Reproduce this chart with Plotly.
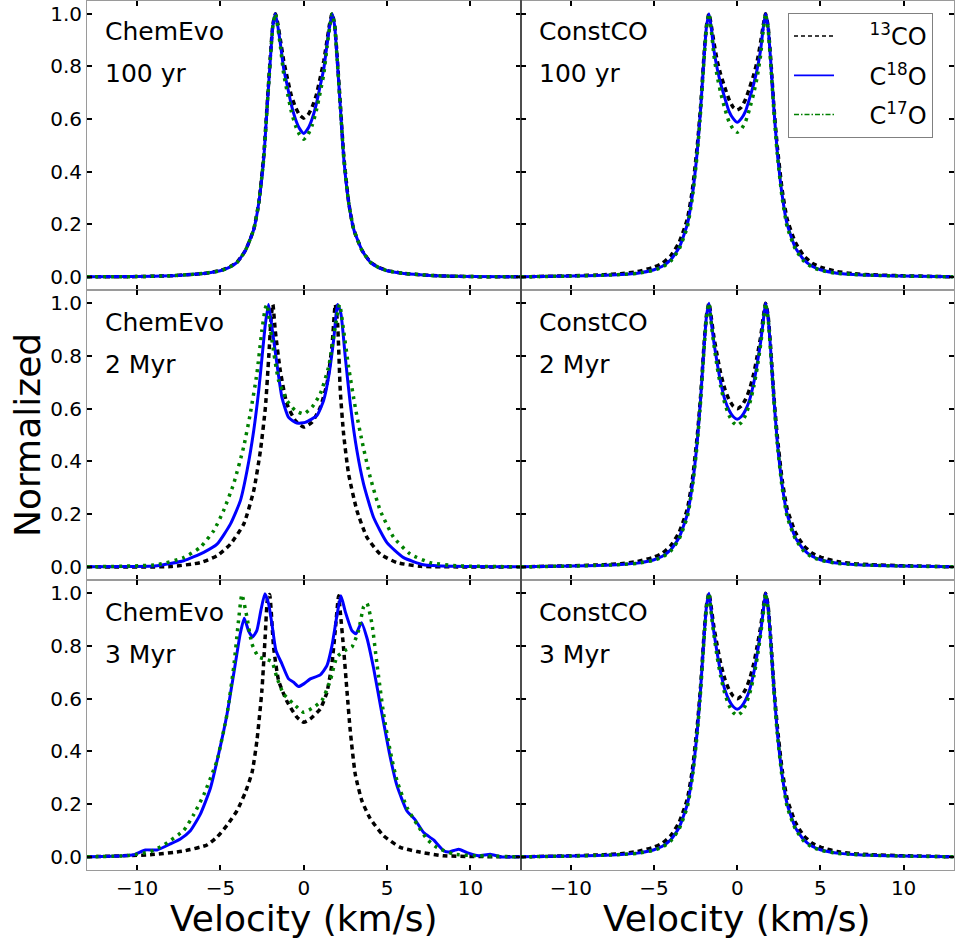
import plotly.graph_objects as go

# ---------------------------------------------------------------
# Normalized line profiles of 13CO, C18O and C17O
# Left column: chemical evolution (ChemEvo); right: constant CO (ConstCO)
# ---------------------------------------------------------------

# Shared velocity grid (km/s) for the nearly symmetric profiles
v_grid = [-13, -10, -8, -7, -6, -5, -4.5, -4, -3.5, -3, -2.7, -2.4, -2.2, -2.0,
          -1.85, -1.7, -1.55, -1.4, -1.2, -1.0, -0.75, -0.5, -0.25, 0,
          0.25, 0.5, 0.75, 1.0, 1.2, 1.4, 1.55, 1.7, 1.85, 2.0, 2.2, 2.4,
          2.7, 3.0, 3.5, 4.0, 4.5, 5, 6, 7, 8, 10, 13]

# ChemEvo, 100 yr
chem100_13co = [0, 0.001, 0.004, 0.008, 0.013, 0.024, 0.036, 0.056, 0.10, 0.18, 0.28, 0.46, 0.65, 0.84,
                0.96, 1.0, 0.96, 0.90, 0.82, 0.76, 0.69, 0.645, 0.615, 0.603,
                0.615, 0.645, 0.69, 0.76, 0.82, 0.90, 0.96, 1.0, 0.96, 0.84, 0.65, 0.46,
                0.28, 0.18, 0.10, 0.056, 0.036, 0.024, 0.013, 0.008, 0.004, 0.001, 0]
chem100_c18o = [0, 0.001, 0.004, 0.008, 0.013, 0.023, 0.035, 0.055, 0.10, 0.18, 0.28, 0.45, 0.64, 0.83,
                0.955, 1.0, 0.95, 0.885, 0.79, 0.73, 0.655, 0.60, 0.563, 0.545,
                0.563, 0.60, 0.655, 0.73, 0.79, 0.885, 0.95, 1.0, 0.955, 0.83, 0.64, 0.45,
                0.28, 0.18, 0.10, 0.055, 0.035, 0.023, 0.013, 0.008, 0.004, 0.001, 0]
chem100_c17o = [0, 0.001, 0.004, 0.008, 0.013, 0.023, 0.035, 0.055, 0.10, 0.18, 0.28, 0.45, 0.64, 0.83,
                0.955, 1.0, 0.945, 0.875, 0.77, 0.705, 0.63, 0.575, 0.54, 0.523,
                0.54, 0.575, 0.63, 0.705, 0.77, 0.875, 0.945, 1.0, 0.955, 0.83, 0.64, 0.45,
                0.28, 0.18, 0.10, 0.055, 0.035, 0.023, 0.013, 0.008, 0.004, 0.001, 0]

# ConstCO, 100 yr
const100_13co = [0, 0.004, 0.008, 0.012, 0.02, 0.037, 0.052, 0.08, 0.13, 0.22, 0.33, 0.50, 0.65, 0.84,
                 0.955, 1.0, 0.95, 0.89, 0.82, 0.77, 0.72, 0.675, 0.645, 0.634,
                 0.645, 0.675, 0.72, 0.77, 0.82, 0.89, 0.95, 1.0, 0.955, 0.84, 0.65, 0.50,
                 0.33, 0.22, 0.13, 0.08, 0.052, 0.037, 0.02, 0.012, 0.008, 0.004, 0]
const100_c18o = [0, 0.003, 0.006, 0.009, 0.014, 0.027, 0.04, 0.065, 0.11, 0.20, 0.31, 0.48, 0.64, 0.83,
                 0.95, 1.0, 0.94, 0.86, 0.79, 0.735, 0.68, 0.63, 0.602, 0.587,
                 0.602, 0.63, 0.68, 0.735, 0.79, 0.86, 0.94, 1.0, 0.95, 0.83, 0.64, 0.48,
                 0.31, 0.20, 0.11, 0.065, 0.04, 0.027, 0.014, 0.009, 0.006, 0.003, 0]
const100_c17o = [0, 0.003, 0.006, 0.009, 0.013, 0.025, 0.037, 0.06, 0.105, 0.19, 0.30, 0.47, 0.63, 0.82,
                 0.945, 1.0, 0.93, 0.84, 0.76, 0.70, 0.64, 0.59, 0.562, 0.549,
                 0.562, 0.59, 0.64, 0.70, 0.76, 0.84, 0.93, 1.0, 0.945, 0.82, 0.63, 0.47,
                 0.30, 0.19, 0.105, 0.06, 0.037, 0.025, 0.013, 0.009, 0.006, 0.003, 0]

# ConstCO, 2 Myr
const2_13co = [0, 0.004, 0.008, 0.012, 0.02, 0.037, 0.052, 0.08, 0.13, 0.22, 0.33, 0.50, 0.65, 0.84,
               0.955, 1.0, 0.94, 0.87, 0.80, 0.735, 0.675, 0.635, 0.61, 0.60,
               0.61, 0.635, 0.675, 0.735, 0.80, 0.87, 0.94, 1.0, 0.955, 0.84, 0.65, 0.50,
               0.33, 0.22, 0.13, 0.08, 0.052, 0.037, 0.02, 0.012, 0.008, 0.004, 0]
const2_c18o = [0, 0.003, 0.006, 0.009, 0.014, 0.027, 0.04, 0.065, 0.11, 0.20, 0.31, 0.48, 0.64, 0.83,
               0.95, 1.0, 0.925, 0.85, 0.77, 0.70, 0.635, 0.595, 0.57, 0.56,
               0.57, 0.595, 0.635, 0.70, 0.77, 0.85, 0.925, 1.0, 0.95, 0.83, 0.64, 0.48,
               0.31, 0.20, 0.11, 0.065, 0.04, 0.027, 0.014, 0.009, 0.006, 0.003, 0]
const2_c17o = [0, 0.003, 0.006, 0.009, 0.013, 0.025, 0.037, 0.06, 0.105, 0.19, 0.30, 0.47, 0.63, 0.82,
               0.945, 1.0, 0.915, 0.84, 0.755, 0.685, 0.62, 0.575, 0.548, 0.536,
               0.548, 0.575, 0.62, 0.685, 0.755, 0.84, 0.915, 1.0, 0.945, 0.82, 0.63, 0.47,
               0.30, 0.19, 0.105, 0.06, 0.037, 0.025, 0.013, 0.009, 0.006, 0.003, 0]

# ConstCO, 3 Myr
const3_13co = [0, 0.004, 0.008, 0.012, 0.02, 0.037, 0.052, 0.08, 0.13, 0.22, 0.33, 0.50, 0.65, 0.84,
               0.955, 1.0, 0.94, 0.87, 0.80, 0.735, 0.675, 0.635, 0.61, 0.60,
               0.61, 0.635, 0.675, 0.735, 0.80, 0.87, 0.94, 1.0, 0.955, 0.84, 0.65, 0.50,
               0.33, 0.22, 0.13, 0.08, 0.052, 0.037, 0.02, 0.012, 0.008, 0.004, 0]
const3_c18o = [0, 0.003, 0.006, 0.009, 0.014, 0.027, 0.04, 0.065, 0.11, 0.20, 0.31, 0.48, 0.64, 0.83,
               0.95, 1.0, 0.925, 0.85, 0.77, 0.70, 0.635, 0.595, 0.57, 0.56,
               0.57, 0.595, 0.635, 0.70, 0.77, 0.85, 0.925, 1.0, 0.95, 0.83, 0.64, 0.48,
               0.31, 0.20, 0.11, 0.065, 0.04, 0.027, 0.014, 0.009, 0.006, 0.003, 0]
const3_c17o = [0, 0.003, 0.006, 0.009, 0.013, 0.025, 0.037, 0.06, 0.105, 0.19, 0.30, 0.47, 0.63, 0.82,
               0.945, 1.0, 0.915, 0.84, 0.755, 0.685, 0.62, 0.575, 0.548, 0.536,
               0.548, 0.575, 0.62, 0.685, 0.755, 0.84, 0.915, 1.0, 0.945, 0.82, 0.63, 0.47,
               0.30, 0.19, 0.105, 0.06, 0.037, 0.025, 0.013, 0.009, 0.006, 0.003, 0]

# ChemEvo, 2 Myr (each isotopologue on its own velocity samples)
chem2_13co_v = [-13, -8, -6.2, -5.2, -4.4, -3.6, -3.0, -2.6, -2.3, -2.1, -1.95, -1.85, -1.71, -1.41,
                -1.01, -0.51, 0, 0.49, 0.99, 1.39, 1.69, 1.89, 2.03, 2.19, 2.39, 2.69, 3.19, 3.79,
                4.59, 5.59, 7, 13]
chem2_13co = [0, 0.001, 0.016, 0.042, 0.086, 0.162, 0.289, 0.44, 0.605, 0.796, 0.95, 0.995, 0.897, 0.745,
              0.618, 0.555, 0.53, 0.548, 0.605, 0.694, 0.834, 0.995, 0.922, 0.669, 0.504, 0.352, 0.213, 0.112,
              0.048, 0.016, 0.002, 0]
chem2_c18o_v = [-13, -10, -8.8, -7.2, -6.0, -5.2, -4.4, -3.8, -3.4, -3.0, -2.7, -2.5, -2.3, -2.11, -1.91,
                -1.61, -1.31, -0.91, -0.41, 0.09, 0.79, 1.19, 1.49, 1.79, 2.03, 2.23, 2.49, 2.79, 3.19,
                3.59, 4.19, 4.99, 5.99, 7.19, 9, 13]
chem2_c18o = [0, 0.001, 0.004, 0.023, 0.055, 0.086, 0.162, 0.251, 0.365, 0.517, 0.669, 0.796, 0.922, 0.995, 0.91,
              0.77, 0.643, 0.567, 0.545, 0.548, 0.574, 0.631, 0.72, 0.859, 0.995, 0.96, 0.796, 0.618, 0.44,
              0.314, 0.187, 0.092, 0.035, 0.008, 0.002, 0]
chem2_c17o_v = [-13, -8.8, -7.2, -6.2, -5.4, -4.81, -4.21, -3.61, -3.21, -2.81, -2.51, -2.31, -2.21, -1.91,
                -1.51, -1.01, -0.51, 0, 0.49, 0.99, 1.49, 1.89, 2.15, 2.39, 2.69, 3.09, 3.49, 3.99,
                4.59, 5.39, 6.39, 7.59, 9.19, 13]
chem2_c17o = [0, 0.008, 0.035, 0.074, 0.137, 0.213, 0.314, 0.453, 0.58, 0.733, 0.897, 0.98, 0.995, 0.86,
              0.707, 0.631, 0.593, 0.58, 0.605, 0.656, 0.758, 0.91, 0.995, 0.897, 0.758, 0.605, 0.478, 0.339,
              0.213, 0.112, 0.048, 0.016, 0.004, 0]

# ChemEvo, 3 Myr
chem3_13co_v = [-13, -9.2, -7.2, -5.8, -5.2, -4.6, -4.0, -3.5, -3.1, -2.81, -2.51, -2.31, -2.17, -2.05,
                -1.81, -1.51, -1.01, -0.41, 0, 0.39, 0.99, 1.39, 1.69, 1.89, 2.09, 2.19, 2.39, 2.59,
                2.79, 3.09, 3.49, 3.99, 4.79, 5.79, 6.79, 8.39, 13]
chem3_13co = [0, 0.008, 0.022, 0.045, 0.075, 0.12, 0.175, 0.245, 0.32, 0.44, 0.631, 0.84, 0.98, 0.995,
              0.796, 0.669, 0.59, 0.53, 0.51, 0.523, 0.561, 0.624, 0.732, 0.86, 0.99, 0.93, 0.79, 0.631,
              0.478, 0.313, 0.212, 0.145, 0.08, 0.036, 0.02, 0.004, 0]
chem3_c18o_v = [-13, -10.8, -10.2, -9.5, -8.8, -8.0, -7.4, -6.8, -6.2, -5.6, -5.0, -4.6, -4.2, -3.81, -3.57,
                -3.3, -3.07, -2.81, -2.57, -2.33, -2.11, -1.91, -1.67, -1.31, -0.91, -0.61, -0.31, 0, 0.39,
                0.99, 1.39, 1.69, 1.99, 2.23, 2.49, 2.89, 3.13, 3.46, 3.79, 4.19, 4.64, 5.19, 5.59, 6.19,
                6.65, 7.19, 7.79, 8.39, 8.69, 9.29, 9.79, 10.49, 11.19, 11.79, 13]
chem3_c18o = [0, 0.004, 0.008, 0.026, 0.026, 0.049, 0.068, 0.099, 0.162, 0.26, 0.42, 0.542, 0.694, 0.846, 0.905,
              0.855, 0.834, 0.859, 0.935, 0.998, 0.96, 0.884, 0.783, 0.732, 0.675, 0.662, 0.646, 0.656, 0.675,
              0.69, 0.725, 0.80, 0.915, 0.99, 0.93, 0.858, 0.846, 0.888, 0.83, 0.715, 0.56, 0.377, 0.27, 0.174,
              0.143, 0.092, 0.064, 0.023, 0.018, 0.029, 0.016, 0.004, 0.01, 0, 0]
chem3_c17o_v = [-13, -10.5, -9.2, -8.4, -7.2, -6.6, -6.0, -5.4, -5.2, -4.6, -4.2, -3.91, -3.71, -3.41, -3.11,
                -2.71, -2.31, -1.91, -1.61, -1.21, -0.61, 0, 0.59, 1.09, 1.59, 1.99, 2.49, 2.89, 3.29,
                3.59, 3.79, 4.09, 4.39, 4.79, 5.19, 5.59, 6.19, 6.79, 7.39, 7.99, 8.99, 10.5, 13]
chem3_c17o = [0, 0.005, 0.02, 0.045, 0.10, 0.16, 0.235, 0.33, 0.365, 0.542, 0.72, 0.897, 0.995, 0.91, 0.808,
              0.758, 0.75, 0.74, 0.68, 0.618, 0.58, 0.548, 0.567, 0.593, 0.669, 0.758, 0.783, 0.796, 0.859,
              0.948, 0.962, 0.884, 0.732, 0.542, 0.40, 0.289, 0.187, 0.124, 0.067, 0.035, 0.01, 0.004, 0]

# Panel labels (model, age)
panel_models = ["ChemEvo", "ConstCO", "ChemEvo", "ConstCO", "ChemEvo", "ConstCO"]
panel_ages = ["100 yr", "100 yr", "2 Myr", "2 Myr", "3 Myr", "3 Myr"]

species_names = ["<sup>13</sup>CO", "C<sup>18</sup>O", "C<sup>17</sup>O"]
x_ticks = [-10, -5, 0, 5, 10]
y_ticks = [0.0, 0.2, 0.4, 0.6, 0.8, 1.0]

# (velocities, values) per panel in order: 13CO, C18O, C17O
panels = [
    [(v_grid, chem100_13co), (v_grid, chem100_c18o), (v_grid, chem100_c17o)],
    [(v_grid, const100_13co), (v_grid, const100_c18o), (v_grid, const100_c17o)],
    [(chem2_13co_v, chem2_13co), (chem2_c18o_v, chem2_c18o), (chem2_c17o_v, chem2_c17o)],
    [(v_grid, const2_13co), (v_grid, const2_c18o), (v_grid, const2_c17o)],
    [(chem3_13co_v, chem3_13co), (chem3_c18o_v, chem3_c18o), (chem3_c17o_v, chem3_c17o)],
    [(v_grid, const3_13co), (v_grid, const3_c18o), (v_grid, const3_c17o)],
]

# ---------------------------------------------------------------
W, H = 955, 938
FONT = "DejaVu Sans"


def fx(px):
    return px / W


def fy(px):
    return 1 - px / H


col_dom = [(87, 520.5), (521, 953.5)]
row_dom = [(0.5, 290), (290, 580), (580, 870)]

line_styles = [
    dict(color="black", width=3.5, dash="5px,4px"),
    dict(color="#0000ff", width=3),
    dict(color="#008000", width=3.5, dash="3px,5px"),
]
# thinner strokes for the legend keys
legend_styles = [
    dict(color="black", width=1.5, dash="4px,3px"),
    dict(color="#0000ff", width=1.8),
    dict(color="#008000", width=1.5, dash="5px,2px,1.5px,2px"),
]
legend_pad = ["\u00a0" * 4, "\u00a0" * 4, "\u00a0" * 4]

fig = go.Figure()
layout = dict(
    width=W, height=H,
    margin=dict(l=0, r=0, t=0, b=0),
    paper_bgcolor="white", plot_bgcolor="white",
    font=dict(family=FONT, size=20, color="black"),
    showlegend=True,
    legend=dict(
        x=fx(788), y=fy(13), xanchor="left", yanchor="top",
        bgcolor="white", bordercolor="#808080", borderwidth=1,
        font=dict(family=FONT, size=24, color="black"),
        tracegroupgap=5, traceorder="grouped", itemwidth=40,
    ),
)

axis_line = dict(showline=True, linecolor="#9a9a9a", linewidth=1, mirror="allticks",
                 ticks="inside", ticklen=5, tickwidth=2, tickcolor="black",
                 showgrid=False, zeroline=False,
                 tickfont=dict(family=FONT, size=20, color="black"))

annotations = []
for i in range(6):
    r, c = divmod(i, 2)
    xa = "x" if i == 0 else f"x{i + 1}"
    ya = "y" if i == 0 else f"y{i + 1}"
    xkey = "xaxis" if i == 0 else f"xaxis{i + 1}"
    ykey = "yaxis" if i == 0 else f"yaxis{i + 1}"
    x0, x1 = col_dom[c]
    y0, y1 = row_dom[r]
    layout[xkey] = dict(
        domain=[fx(x0), fx(x1)], anchor=ya, range=[-13, 13],
        tickvals=x_ticks, showticklabels=(r == 2), **axis_line,
    )
    layout[ykey] = dict(
        domain=[fy(y1), fy(y0)], anchor=xa, range=[-0.05, 1.05],
        tickvals=y_ticks, tickformat=".1f", showticklabels=(c == 0), **axis_line,
    )
    for k, (vv, yy) in enumerate(panels[i]):
        fig.add_trace(go.Scatter(
            x=vv, y=yy, mode="lines", xaxis=xa, yaxis=ya,
            line=dict(shape="spline", smoothing=0.5, **line_styles[k]),
            name=species_names[k], legendgroup=species_names[k],
            showlegend=False, hoverinfo="skip",
        ))
    # model / age labels
    tx = 103 if c == 0 else 537
    annotations.append(dict(
        x=fx(tx), y=fy(r * 290 + 32), xref="paper", yref="paper",
        text=panel_models[i], showarrow=False, xanchor="left", yanchor="middle",
        font=dict(family=FONT, size=25, color="black"),
    ))
    annotations.append(dict(
        x=fx(tx), y=fy(r * 290 + 74), xref="paper", yref="paper",
        text=panel_ages[i], showarrow=False, xanchor="left", yanchor="middle",
        font=dict(family=FONT, size=25, color="black"),
    ))

# legend keys (no data, only the key swatches)
for k in range(3):
    fig.add_trace(go.Scatter(
        x=[None], y=[None], mode="lines", xaxis="x2", yaxis="y2",
        line=legend_styles[k], name=legend_pad[k] + species_names[k],
        legendgroup=species_names[k], showlegend=True, hoverinfo="skip",
    ))

# shared axis titles
for c in range(2):
    x0, x1 = col_dom[c]
    annotations.append(dict(
        x=fx((x0 + x1) / 2), y=fy(918), xref="paper", yref="paper",
        text="Velocity (km/s)", showarrow=False, xanchor="center", yanchor="middle",
        font=dict(family=FONT, size=36, color="black"),
    ))
annotations.append(dict(
    x=fx(27), y=fy(435), xref="paper", yref="paper",
    text="Normalized", showarrow=False, textangle=-90,
    xanchor="center", yanchor="middle",
    font=dict(family=FONT, size=36, color="black"),
))
layout["annotations"] = annotations

# dark divider between the two columns
layout["shapes"] = [dict(
    type="line", xref="paper", yref="paper",
    x0=fx(521), x1=fx(521), y0=fy(870), y1=fy(0),
    line=dict(color="black", width=1),
)]

fig.update_layout(**layout)
fig.write_html("out.html")
